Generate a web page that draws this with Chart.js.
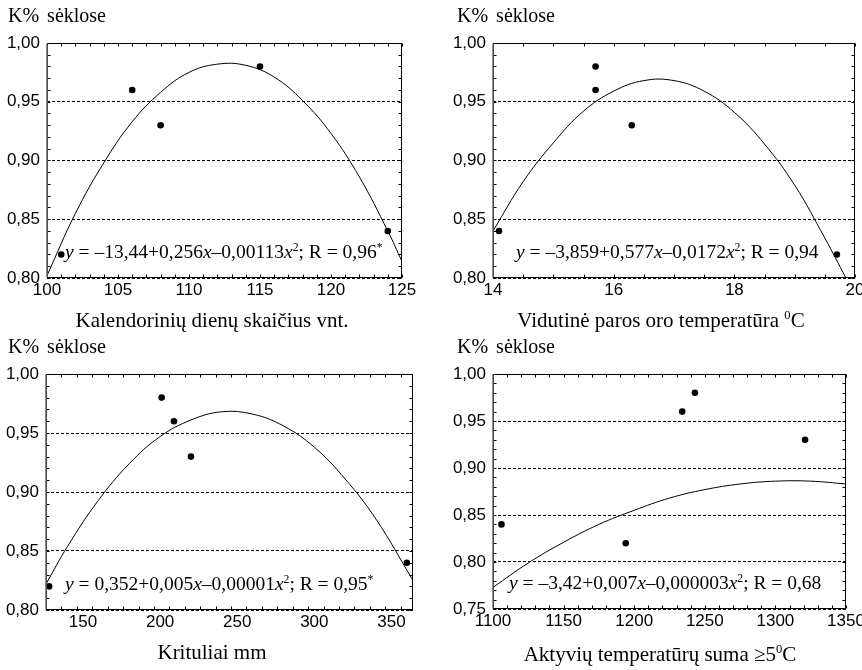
<!DOCTYPE html>
<html>
<head>
<meta charset="utf-8">
<script src="https://cdn.jsdelivr.net/npm/chart.js@4.4.0/dist/chart.umd.min.js"></script>
<style>
  body { margin: 0; background: #fff; width: 862px; height: 670px; position: relative; overflow: hidden;
         font-family: "Liberation Serif", "Times New Roman", serif; color: #000; }
  canvas { position: absolute; }
  .ttl { position: absolute; font-size: 20px; line-height: 20px; word-spacing: 3px; white-space: nowrap; }
  .xl { position: absolute; font-size: 21px; line-height: 21px; white-space: nowrap; transform: translateX(-50%); }
  .eq { position: absolute; font-size: 19.5px; line-height: 19.5px; white-space: nowrap; }
  sup { font-size: 60%; line-height: 0; vertical-align: 0.6em; }
</style>
</head>
<body>
<canvas id="c1" width="431" height="310" style="left:0;top:0"></canvas>
<canvas id="c2" width="431" height="310" style="left:431px;top:0"></canvas>
<canvas id="c3" width="431" height="310" style="left:0;top:331px"></canvas>
<canvas id="c4" width="431" height="310" style="left:431px;top:331px"></canvas>

<div class="ttl" style="left:8px;top:5px">K% sėklose</div>
<div class="ttl" style="left:457px;top:5px">K% sėklose</div>
<div class="ttl" style="left:8px;top:336px">K% sėklose</div>
<div class="ttl" style="left:457px;top:336px">K% sėklose</div>

<div class="xl" style="left:212px;top:310px">Kalendorinių dienų skaičius vnt.</div>
<div class="xl" style="left:661px;top:310px">Vidutinė paros oro temperatūra <sup>0</sup>C</div>
<div class="xl" style="left:212px;top:642px">Krituliai mm</div>
<div class="xl" style="left:660px;top:644px">Aktyvių temperatūrų suma ≥5<sup>0</sup>C</div>

<div class="eq" style="left:65px;top:242px"><i>y</i> = –13,44+0,256<i>x</i>–0,00113<i>x</i><sup>2</sup>; R = 0,96<sup>*</sup></div>
<div class="eq" style="left:516px;top:242px"><i>y</i> = –3,859+0,577<i>x</i>–0,0172<i>x</i><sup>2</sup>; R = 0,94</div>
<div class="eq" style="left:65px;top:574px"><i>y</i> = 0,352+0,005<i>x</i>–0,00001<i>x</i><sup>2</sup>; R = 0,95<sup>*</sup></div>
<div class="eq" style="left:509px;top:573px"><i>y</i> = –3,42+0,007<i>x</i>–0,000003<i>x</i><sup>2</sup>; R = 0,68</div>

<script>
// measured points
var days = [101, 106, 108, 115, 124];
var kDays = [0.82, 0.96, 0.93, 0.98, 0.84];
var temp = [14.1, 15.7, 15.7, 16.3, 19.7];
var kTemp = [0.84, 0.98, 0.96, 0.93, 0.82];
var rain = [128, 201, 209, 220, 360];
var kRain = [0.82, 0.98, 0.96, 0.93, 0.84];
var aktSum = [1106, 1194, 1234, 1243, 1321];
var kAkt = [0.84, 0.82, 0.96, 0.98, 0.93];

// fitted curves
var fitDaysX = [100, 102, 104, 106, 108, 110, 112, 114, 116, 118, 120, 122, 124, 125];
var fitDaysY = [0.802, 0.855, 0.898, 0.933, 0.958, 0.975, 0.982, 0.981, 0.971, 0.951, 0.923, 0.886, 0.840, 0.814];
var fitTempX = [14, 14.5, 15, 15.5, 16, 16.5, 17, 17.5, 18, 18.5, 19, 19.5, 19.85];
var fitTempY = [0.840, 0.882, 0.915, 0.942, 0.959, 0.968, 0.968, 0.959, 0.941, 0.914, 0.879, 0.834, 0.800];
var fitRainX = [126, 140, 160, 180, 200, 220, 240, 260, 280, 300, 320, 340, 364];
var fitRainY = [0.822, 0.854, 0.893, 0.924, 0.947, 0.961, 0.968, 0.966, 0.956, 0.938, 0.911, 0.877, 0.825];
var fitAktX = [1100, 1125, 1150, 1175, 1200, 1225, 1250, 1275, 1300, 1325, 1350];
var fitAktY = [0.773, 0.799, 0.821, 0.840, 0.855, 0.868, 0.877, 0.883, 0.886, 0.886, 0.883];

function toPoints(xs, ys) {
  return xs.map(function (x, i) { return { x: x, y: ys[i] }; });
}

function fmtY(v) {
  return v.toFixed(2).replace(".", ",");
}

function fmtX(v) {
  return String(v);
}

// frame around the plot plus small inward ticks on every side
var framePlugin = {
  id: "frame",
  afterDraw: function (chart) {
    var ctx = chart.ctx;
    var a = chart.chartArea;
    var sx = chart.scales.x, sy = chart.scales.y;
    var f = chart.options.plugins.frame;
    var l = Math.round(a.left) + 0.5, r = Math.round(a.right) - 0.5;
    var t = Math.round(a.top) + 0.5, b = Math.round(a.bottom) - 0.5;
    ctx.save();
    ctx.strokeStyle = "#000";
    ctx.lineWidth = 1;
    ctx.setLineDash([]);
    ctx.beginPath();
    var v, p;
    for (v = sx.min; v <= sx.max + 1e-9; v += f.minorX) {
      p = Math.round(sx.getPixelForValue(v)) + 0.5;
      ctx.moveTo(p, b); ctx.lineTo(p, b - 3);
      ctx.moveTo(p, t); ctx.lineTo(p, t + 3);
    }
    for (v = sy.min; v <= sy.max + 1e-9; v += f.minorY) {
      p = Math.round(sy.getPixelForValue(v)) + 0.5;
      ctx.moveTo(l, p); ctx.lineTo(l + 3, p);
      ctx.moveTo(r, p); ctx.lineTo(r - 3, p);
    }
    ctx.stroke();
    ctx.strokeRect(l, t, r - l, b - t);
    ctx.strokeStyle = "#666";
    ctx.lineWidth = 1.5;
    ctx.beginPath();
    ctx.moveTo(l - 0.5, t);
    ctx.lineTo(l - 0.5, b);
    ctx.stroke();
    ctx.restore();
  }
};

function drawPanel(id, xs, ys, fitX, fitY, o) {
  var canvas = document.getElementById(id);
  var W = canvas.width, H = canvas.height;
  var axisH = 26;
  return new Chart(canvas.getContext("2d"), {
    type: "scatter",
    data: {
      datasets: [
        {
          data: toPoints(xs, ys),
          pointRadius: 3.3,
          pointBackgroundColor: "#000",
          pointBorderColor: "#000",
          pointBorderWidth: 0,
          showLine: false
        },
        {
          data: toPoints(fitX, fitY),
          showLine: true,
          pointRadius: 0,
          borderColor: "#000",
          borderWidth: 1,
          tension: 0.4
        }
      ]
    },
    options: {
      responsive: false,
      animation: false,
      layout: {
        padding: { left: 0, top: o.area[1], right: W - o.area[2], bottom: H - o.area[3] - axisH }
      },
      plugins: {
        legend: { display: false },
        tooltip: { enabled: false },
        frame: { minorX: o.minorX, minorY: 0.01 }
      },
      scales: {
        x: {
          type: "linear",
          min: o.xMin,
          max: o.xMax,
          ticks: {
            stepSize: o.xStep,
            includeBounds: false,
            autoSkip: false,
            maxRotation: 0,
            padding: 2,
            color: "#000",
            font: { family: "Liberation Sans", size: 17 },
            callback: fmtX
          },
          grid: { display: false, drawTicks: false },
          border: { display: false },
          afterFit: function (s) { s.height = axisH; s.paddingLeft = 0; s.paddingRight = 0; }
        },
        y: {
          min: o.yMin,
          max: 1.0,
          ticks: {
            stepSize: 0.05,
            padding: 7,
            color: "#000",
            font: { family: "Liberation Sans", size: 17 },
            callback: fmtY
          },
          grid: { color: "#000", lineWidth: 1, drawTicks: false },
          border: { display: false, dash: [3, 2] },
          afterFit: function (s) { s.width = o.area[0]; s.paddingTop = 0; s.paddingBottom = 0; }
        }
      }
    },
    plugins: [framePlugin]
  });
}

drawPanel("c1", days, kDays, fitDaysX, fitDaysY,
  { area: [47, 43, 402, 278], xMin: 100, xMax: 125, xStep: 5, minorX: 1, yMin: 0.8 });
drawPanel("c2", temp, kTemp, fitTempX, fitTempY,
  { area: [62, 43, 424, 278], xMin: 14, xMax: 20, xStep: 2, minorX: 0.5, yMin: 0.8 });
drawPanel("c3", rain, kRain, fitRainX, fitRainY,
  { area: [46, 43, 413, 279], xMin: 126, xMax: 364, xStep: 50, minorX: 10, yMin: 0.8 });
drawPanel("c4", aktSum, kAkt, fitAktX, fitAktY,
  { area: [62, 43, 415, 278], xMin: 1100, xMax: 1350, xStep: 50, minorX: 10, yMin: 0.75 });
</script>
</body>
</html>
